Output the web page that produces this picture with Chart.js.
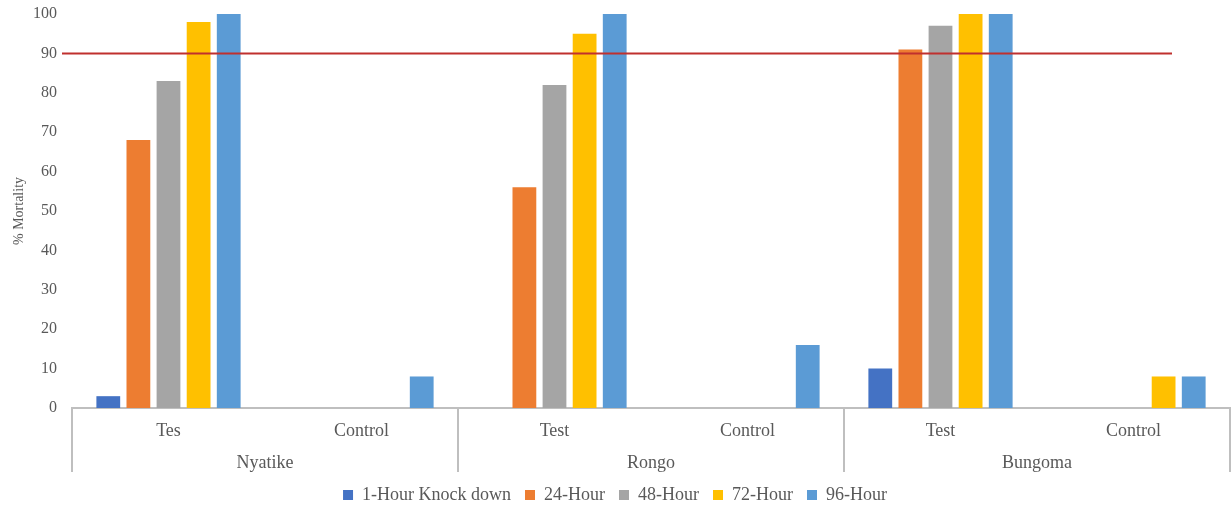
<!DOCTYPE html>
<html>
<head>
<meta charset="utf-8">
<script src="https://cdn.jsdelivr.net/npm/chart.js@4/dist/chart.umd.min.js"></script>
<style>
  html, body { margin: 0; padding: 0; background: #ffffff; }
  #wrap { width: 1231px; height: 506px; }
</style>
</head>
<body>
<div id="wrap"><canvas id="chart" width="1231" height="506"></canvas></div>
<script>
// Treatment sub-categories (inner x level) and sites (outer x level)
const treatments = ['Tes', 'Control', 'Test', 'Control', 'Test', 'Control'];
const sites = ['Nyatike', 'Rongo', 'Bungoma'];

// % mortality per exposure time, one value per treatment column
const knockDown1h = [3, 0, 0, 0, 10, 0];
const hour24 = [68, 0, 56, 0, 91, 0];
const hour48 = [83, 0, 82, 0, 97, 0];
const hour72 = [98, 0, 95, 0, 100, 8];
const hour96 = [100, 8, 100, 16, 100, 8];

const seriesNames = ['1-Hour Knock down', '24-Hour', '48-Hour', '72-Hour', '96-Hour'];
const seriesColors = ['#4472C4', '#ED7D31', '#A5A5A5', '#FFC000', '#5B9BD5'];

// WHO susceptibility cut-off
const threshold = 90;

const yTicks = { min: 0, max: 100, step: 10 };

const textColor = '#595959';
const axisGray = '#bfbfbf';
const serif = '"Liberation Serif", "DejaVu Serif", serif';

const seriesValues = [knockDown1h, hour24, hour48, hour72, hour96];

// Separators only between sites: every second boundary of the inner axis,
// plus the closing boundary (which carries no tick index).
const siteBoundary = (c) =>
  (c.index === undefined || c.index % 2 === 0) ? axisGray : 'rgba(0,0,0,0)';

const thresholdLine = {
  id: 'thresholdLine',
  afterDatasetsDraw(chart) {
    const { ctx, chartArea, scales } = chart;
    const y = scales.y.getPixelForValue(threshold);
    ctx.save();
    ctx.strokeStyle = '#C0302E';
    ctx.lineWidth = 2;
    ctx.beginPath();
    ctx.moveTo(chartArea.left - 10, y);
    ctx.lineTo(chartArea.right - 58, y);
    ctx.stroke();
    ctx.restore();
  }
};

new Chart(document.getElementById('chart'), {
  type: 'bar',
  data: {
    labels: treatments,
    datasets: seriesNames.map((name, i) => ({
      label: name,
      data: seriesValues[i],
      backgroundColor: seriesColors[i],
      borderWidth: 0,
      categoryPercentage: 0.78,
      barPercentage: 0.79,
      xAxisID: 'x'
    }))
  },
  options: {
    responsive: false,
    animation: false,
    layout: { padding: { top: 14, right: 1, left: 0, bottom: -8 } },
    plugins: {
      legend: {
        position: 'bottom',
        labels: {
          boxWidth: 10,
          boxHeight: 10,
          padding: 14,
          color: textColor,
          font: { family: serif, size: 18 }
        }
      },
      tooltip: { enabled: false }
    },
    scales: {
      x: {
        type: 'category',
        position: 'bottom',
        offset: true,
        border: { display: true, color: axisGray, width: 2 },
        grid: {
          offset: true,
          drawOnChartArea: false,
          drawTicks: true,
          tickLength: 36,
          lineWidth: 2,
          color: siteBoundary,
          tickColor: siteBoundary
        },
        ticks: {
          padding: -23.8,
          color: textColor,
          maxRotation: 0,
          autoSkip: false,
          font: { family: serif, size: 18 }
        },
        afterFit: (s) => { s.height = 36; }
      },
      x2: {
        type: 'category',
        position: 'bottom',
        labels: sites,
        offset: true,
        border: { display: false },
        grid: {
          offset: true,
          drawOnChartArea: false,
          drawTicks: true,
          tickLength: 28,
          lineWidth: 2,
          color: axisGray,
          tickColor: axisGray
        },
        ticks: {
          padding: -19.8,
          color: textColor,
          maxRotation: 0,
          autoSkip: false,
          font: { family: serif, size: 18 }
        },
        afterFit: (s) => { s.height = 28; }
      },
      y: {
        min: yTicks.min,
        max: yTicks.max,
        border: { display: false },
        grid: { display: false, drawTicks: false },
        ticks: {
          stepSize: yTicks.step,
          padding: 15,
          color: textColor,
          font: { family: serif, size: 16 }
        },
        title: {
          display: true,
          text: '% Mortality',
          color: textColor,
          padding: { top: 11, bottom: 4 },
          font: { family: serif, size: 14 }
        },
        afterFit: (s) => {
          s.width = 72;
          s.paddingTop = 0;
          s.paddingBottom = 0;
        }
      }
    }
  },
  plugins: [thresholdLine]
});
</script>
</body>
</html>
